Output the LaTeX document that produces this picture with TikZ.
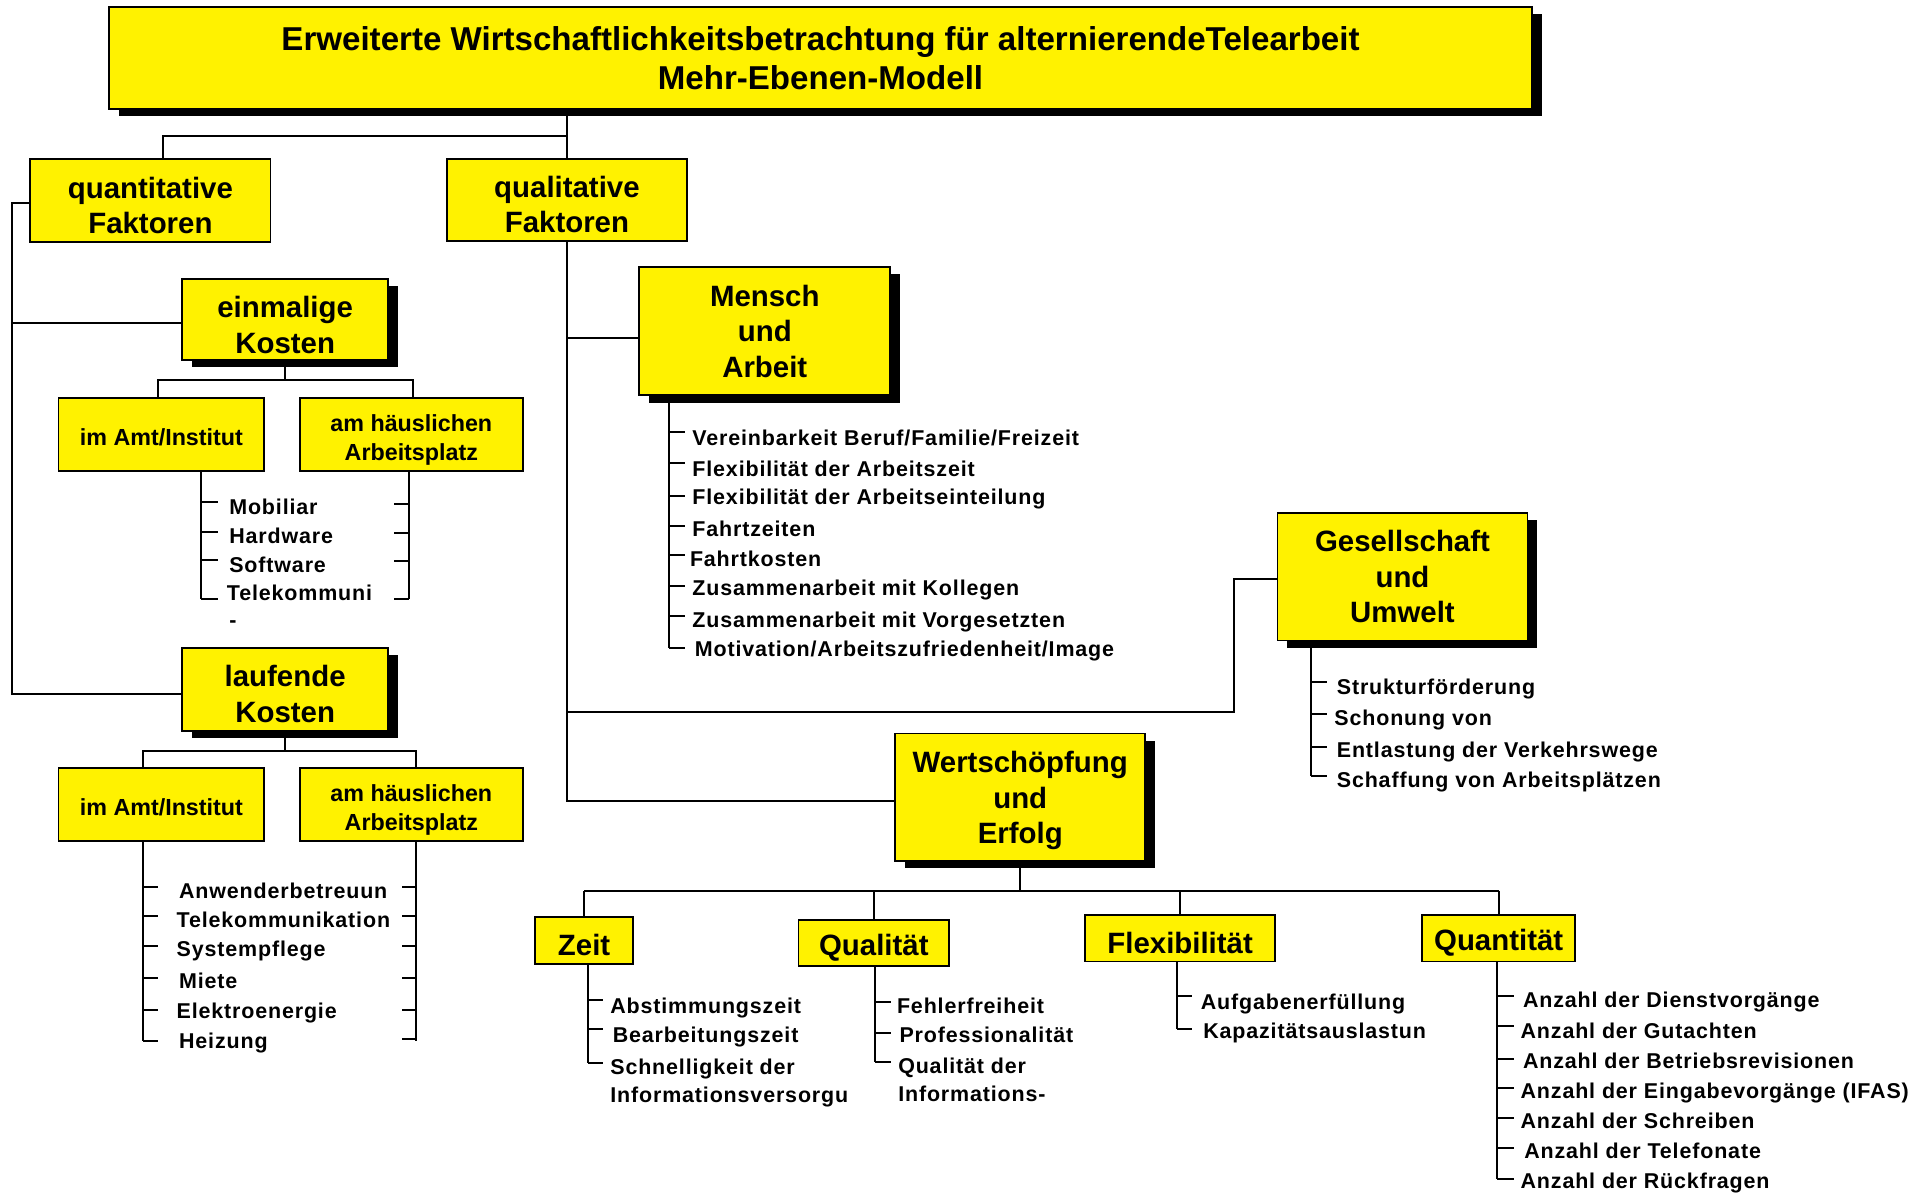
\documentclass[tikz,border=0pt]{standalone}
\usepackage{fontspec}
\setmainfont{Liberation Sans}
\newfontfamily\itemfont{Liberation Sans}[LetterSpace=4]
\usetikzlibrary{shadows,calc}
\newcommand\tstr{\rule{0pt}{25pt}}
\newcommand\sstr{\rule[-4pt]{0pt}{26.5pt}}
\begin{document}
\begin{tikzpicture}[x=1pt,y=-1pt,
 conn/.style={line width=1.6pt},
 box/.style={draw=black, line width=1.5pt, fill=yellow, align=center, inner sep=0pt, anchor=north west, font=\bfseries\fontsize{24}{29}\selectfont},
 sbox/.style={box, font=\bfseries\fontsize{19}{24}\selectfont},
 shad/.style={drop shadow={shadow xshift=8pt, shadow yshift=-6pt, fill=black, opacity=1}},
 item/.style={anchor=base west, inner sep=0pt, font=\itemfont\bfseries\fontsize{17.5}{21}\selectfont},
]
\useasboundingbox[fill=white] (0,0) rectangle (1568,974);

% ---------- boxes ----------
\node[box, shad, minimum width=1162pt, minimum height=83pt, font=\bfseries\fontsize{27}{32}\selectfont] (title) at (88,5)
  {Erweiterte Wirtschaftlichkeitsbetrachtung für alternierendeTelearbeit\\Mehr-Ebenen-Modell};
\node[box, minimum width=196pt, minimum height=68pt] (quant) at (24,129) {\tstr quantitative\\Faktoren};
\node[box, minimum width=196pt, minimum height=67pt] (qual) at (364,129) {\tstr qualitative\\Faktoren};
\node[box, shad, minimum width=168pt, minimum height=66pt] (einm) at (148,227) {\rule{0pt}{26pt}einmalige\\Kosten};
\node[sbox, minimum width=168pt, minimum height=60pt] (amt1) at (47,324) {\sstr im Amt/Institut};
\node[sbox, minimum width=182pt, minimum height=60pt] (haus1) at (244,324) {\rule{0pt}{22.5pt}am häuslichen\\Arbeitsplatz\rule[-4pt]{0pt}{4pt}};
\node[box, shad, minimum width=168pt, minimum height=68pt] (lauf) at (148,528) {\tstr laufende\\Kosten};
\node[sbox, minimum width=168pt, minimum height=60pt] (amt2) at (47,626) {\sstr im Amt/Institut};
\node[sbox, minimum width=182pt, minimum height=60pt] (haus2) at (244,626) {\rule{0pt}{22.5pt}am häuslichen\\Arbeitsplatz\rule[-4pt]{0pt}{4pt}};
\node[box, shad, minimum width=205pt, minimum height=105pt] (mensch) at (521,217) {Mensch\\und\\Arbeit};
\node[box, shad, minimum width=204pt, minimum height=104pt] (ges) at (1042,418) {Gesellschaft\\und\\Umwelt};
\node[box, shad, minimum width=204pt, minimum height=104pt] (wert) at (730,598) {\rule{0pt}{23pt}Wertschöpfung\\und\\Erfolg};
\node[box, minimum width=80pt, minimum height=38pt] (zeit) at (436,748) {\tstr Zeit};
\node[box, minimum width=123pt, minimum height=38pt] (qualit) at (651,750) {\tstr Qualität};
\node[box, minimum width=155pt, minimum height=38pt] (flex) at (885,746) {\tstr Flexibilität};
\node[box, minimum width=125pt, minimum height=38pt] (quant2) at (1160,746) {\tstr Quantität};

% ---------- top connectors ----------
\coordinate (h1) at (133,111);
\draw[conn] (qual.north) -- (qual.north |- title.south);
\draw[conn] (qual.north |- h1) -- (h1) -- (h1 |- quant.north);

% quantitative branch
\draw[conn] ($(quant.west)+(0,2)$) -- ++(-14,0) coordinate (qL) |- ($(lauf.west)+(0,4)$);
\draw[conn] ($(qL |- einm.west)+(0,3)$) -- ($(einm.west)+(0,3)$);

% einmalige children
\coordinate (e1) at (129,310); \coordinate (e2) at (337,310);
\draw[conn] (einm.south) -- (einm.south |- e1);
\draw[conn] (e1 |- amt1.north) -- (e1) -- (e2) -- (e2 |- haus1.north);

% laufende children
\coordinate (l2) at (116.5,613); \coordinate (l3) at (339.4,613);
\draw[conn] (lauf.south) -- (lauf.south |- l2);
\draw[conn] (l2 |- amt2.north) -- (l2) -- (l3) -- (l3 |- haus2.north);

% qualitative branch
\coordinate (g1) at (1007,581);
\draw[conn] (qual.south) -- ($(qual.south |- wert.west)+(0,3)$) -- ($(wert.west)+(0,3)$);
\draw[conn] ($(qual.south |- mensch.west)+(0,6)$) -- ($(mensch.west)+(0,6)$);
\draw[conn] (g1 -| qual.south) -- (g1) |- ($(ges.west)+(0,2)$);

% Wertschoepfung children
\coordinate (w1) at (832,727);
\draw[conn] (wert.south) -- (wert.south |- w1);
\draw[conn] (zeit.north |- w1) -- (quant2.north |- w1);
\foreach \n in {zeit,qualit,flex,quant2} \draw[conn] (\n.north |- w1) -- (\n.north);

% ---------- lists ----------
% einmalige / im Amt
\coordinate (s1) at (164,489);
\draw[conn] (amt1.south -| s1) -- (s1);
\foreach \y in {410,434,457} \draw[conn] (164,\y) -- ++(14,0);
\draw[conn] (s1) -- ++(14,0);
\node[item] (a1) at (187,420) {Mobiliar};
\node[item] (a2) at (187,444) {Hardware};
\node[item] (a3) at (187,467) {Software};
\node[item] (a4) at (185,490) {Telekommuni};
\node[item] (a5) at (187,512) {-};
% einmalige / haeuslich
\coordinate (s2) at (334,489);
\draw[conn] (haus1.south -| s2) -- (s2);
\foreach \y in {411,435,458} \draw[conn] (334,\y) -- ++(-12,0);
\draw[conn] (s2) -- ++(-12,0);

% laufende / im Amt
\coordinate (s3) at (116.5,849.5);
\draw[conn] (amt2.south -| s3) -- (s3);
\foreach \y in {724,748,772,798.6,824.5} \draw[conn] (116.5,\y) -- ++(12.5,0);
\draw[conn] (s3) -- ++(12.5,0);
\node[item] (b1) at (146,733) {Anwenderbetreuun};
\node[item] (b2) at (144,757) {Telekommunikation};
\node[item] (b3) at (144,781) {Systempflege};
\node[item] (b4) at (146,807) {Miete};
\node[item] (b5) at (144,831) {Elektroenergie};
\node[item] (b6) at (146,856) {Heizung};
% laufende / haeuslich
\coordinate (s4) at (339.4,849.5);
\draw[conn] (haus2.south -| s4) -- (s4);
\foreach \y in {724,748,772,798.6,824.5,848} \draw[conn] (339.4,\y) -- ++(-11,0);

% Mensch und Arbeit
\coordinate (s5) at (546,529);
\draw[conn] (mensch.south -| s5) -- (s5);
\foreach \y in {353,378,405,429,453,478,503} \draw[conn] (546,\y) -- ++(13.5,0);
\draw[conn] (s5) -- ++(13.5,0);
\node[item] (m1) at (565,364) {Vereinbarkeit Beruf/Familie/Freizeit};
\node[item] (m2) at (565,389) {Flexibilität der Arbeitszeit};
\node[item] (m3) at (565,412) {Flexibilität der Arbeitseinteilung};
\node[item] (m4) at (565,438) {Fahrtzeiten};
\node[item] (m5) at (563,462) {Fahrtkosten};
\node[item] (m6) at (565,486) {Zusammenarbeit mit Kollegen};
\node[item] (m7) at (565,512) {Zusammenarbeit mit Vorgesetzten};
\node[item] (m8) at (567,536) {Motivation/Arbeitszufriedenheit/Image};

% Gesellschaft und Umwelt
\coordinate (s6) at (1070,633.4);
\draw[conn] (ges.south -| s6) -- (s6);
\foreach \y in {557,583,609.5} \draw[conn] (1070,\y) -- ++(13,0);
\draw[conn] (s6) -- ++(13,0);
\node[item] (g1t) at (1091,567) {Strukturförderung};
\node[item] (g2t) at (1089,592) {Schonung von};
\node[item] (g3t) at (1091,618) {Entlastung der Verkehrswege};
\node[item] (g4t) at (1091,643) {Schaffung von Arbeitsplätzen};

% Zeit
\coordinate (s7) at (480,868);
\draw[conn] (zeit.south -| s7) -- (s7);
\foreach \y in {816,840} \draw[conn] (480,\y) -- ++(12,0);
\draw[conn] (s7) -- ++(12,0);
\node[item] (z1) at (498,827) {Abstimmungszeit};
\node[item] (z2) at (500,851) {Bearbeitungszeit};
\node[item] (z3) at (498,877) {Schnelligkeit der};
\node[item] (z4) at (498,900) {Informationsversorgu};

% Qualitaet
\coordinate (s8) at (714,867);
\draw[conn] (qualit.south -| s8) -- (s8);
\foreach \y in {817.6,843} \draw[conn] (714,\y) -- ++(13,0);
\draw[conn] (s8) -- ++(13,0);
\node[item] (q1) at (732,827) {Fehlerfreiheit};
\node[item] (q2) at (734,851) {Professionalität};
\node[item] (q3) at (733,876) {Qualität der};
\node[item] (q4) at (733,899) {Informations-};

% Flexibilitaet
\coordinate (s9) at (961,840);
\draw[conn] (flex.south -| s9) -- (s9);
\draw[conn] (961,813) -- ++(12,0);
\draw[conn] (s9) -- ++(12,0);
\node[item] (f1) at (980,824) {Aufgabenerfüllung};
\node[item] (f2) at (982,848) {Kapazitätsauslastun};

% Quantitaet
\coordinate (s10) at (1222,962.6);
\draw[conn] (quant2.south -| s10) -- (s10);
\foreach \y in {813,837.5,864,888.3,912.8,937.3} \draw[conn] (1222,\y) -- ++(13.6,0);
\draw[conn] (s10) -- ++(13.6,0);
\node[item] (n1) at (1243,822) {Anzahl der Dienstvorgänge};
\node[item] (n2) at (1241,848) {Anzahl der Gutachten};
\node[item] (n3) at (1243,872) {Anzahl der Betriebsrevisionen};
\node[item] (n4) at (1241,897) {Anzahl der Eingabevorgänge (IFAS)};
\node[item] (n5) at (1241,921) {Anzahl der Schreiben};
\node[item] (n6) at (1244,946) {Anzahl der Telefonate};
\node[item] (n7) at (1241,970) {Anzahl der Rückfragen};
\end{tikzpicture}
\end{document}
